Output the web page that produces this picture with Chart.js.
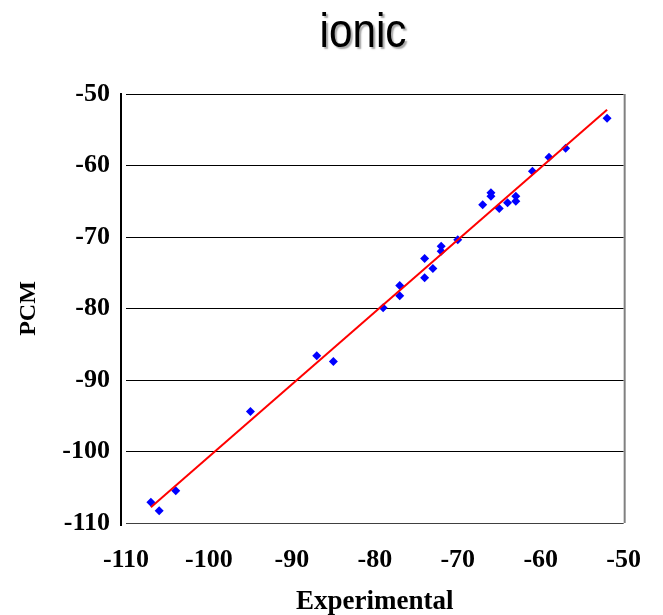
<!DOCTYPE html>
<html>
<head>
<meta charset="utf-8">
<script src="https://cdn.jsdelivr.net/npm/chart.js@4"></script>
<style>
html,body{margin:0;padding:0;background:#fff;}
canvas{display:block;}
</style>
</head>
<body>
<canvas id="c" width="663" height="615"></canvas>
<script>
// Data
const chartTitle = "ionic";
const xTitle = "Experimental";
const yTitle = "PCM";
const experimental = [-107, -106, -104, -95, -87, -85, -79, -77, -77, -74, -74, -73, -72, -72, -70, -67, -66, -66, -65, -64, -63, -63, -61, -59, -57, -52];
const pcm = [-107.1, -108.3, -105.5, -94.4, -86.6, -87.4, -79.9, -76.8, -78.2, -73.0, -75.7, -74.4, -71.3, -72.0, -70.4, -65.5, -63.8, -64.3, -66.0, -65.2, -64.3, -65.0, -60.8, -58.85, -57.6, -53.4];
const fitX = [-107, -52];
const fitY = [-107.8, -52.2];
const axisMin = -110, axisMax = -50, axisStep = 10;

const points = experimental.map((x, i) => ({x: x, y: pcm[i]}));
const fit = fitX.map((x, i) => ({x: x, y: fitY[i]}));

const decor = {
  id: 'decor',
  afterDraw(chart) {
    const ctx = chart.ctx, a = chart.chartArea;
    ctx.save();
    // left axis line (offset from plot like the reference)
    ctx.strokeStyle = '#000';
    ctx.lineWidth = 2;
    ctx.beginPath();
    ctx.moveTo(a.left - 5, a.top - 1);
    ctx.lineTo(a.left - 5, a.bottom + 3);
    ctx.stroke();
    // right border
    ctx.strokeStyle = '#808080';
    ctx.lineWidth = 2;
    ctx.beginPath();
    ctx.moveTo(a.right + 1, a.top);
    ctx.lineTo(a.right + 1, a.bottom);
    ctx.stroke();
    // title with shadow
    ctx.font = '48px "Liberation Sans", Arial, sans-serif';
    ctx.textAlign = 'center';
    ctx.textBaseline = 'alphabetic';
    ctx.translate(363, 46.5);
    ctx.scale(0.88, 1);
    ctx.shadowColor = 'rgba(0,0,0,0.35)';
    ctx.shadowOffsetX = 2;
    ctx.shadowOffsetY = 2;
    ctx.shadowBlur = 1.5;
    ctx.fillStyle = '#000';
    ctx.fillText(chartTitle, 0, 0);
    ctx.restore();
  }
};

const serifBold = (size) => ({family: '"Liberation Serif", "Times New Roman", serif', size: size, weight: 'bold'});

new Chart(document.getElementById('c'), {
  type: 'scatter',
  data: {
    datasets: [
      {
        type: 'line',
        data: fit,
        borderColor: '#ff0000',
        borderWidth: 2,
        pointRadius: 0,
        fill: false,
        tension: 0,
        order: 0
      },
      {
        data: points,
        pointStyle: 'rectRot',
        pointRadius: 4.5,
        pointBackgroundColor: '#0000ff',
        pointBorderColor: '#0000ff',
        pointBorderWidth: 0,
        order: 1
      }
    ]
  },
  options: {
    responsive: false,
    animation: false,
    layout: {padding: {top: 94, right: 39, left: 0, bottom: 0}},
    plugins: {legend: {display: false}, tooltip: {enabled: false}, title: {display: false}},
    scales: {
      x: {
        type: 'linear',
        min: axisMin, max: axisMax,
        ticks: {stepSize: axisStep, color: '#000', font: serifBold(26), padding: 22, maxRotation: 0},
        grid: {display: false, drawTicks: false},
        border: {display: false},
        title: {display: true, text: xTitle, color: '#000', font: serifBold(27), padding: {top: 0, bottom: -3}},
        afterFit(s) { s.height = 92; }
      },
      y: {
        type: 'linear',
        min: axisMin, max: axisMax,
        ticks: {stepSize: axisStep, color: '#000', font: serifBold(26), padding: 16},
        grid: {color: (c) => c.tick && c.tick.value === axisMin ? '#404040' : '#000', lineWidth: 1, drawTicks: false},
        border: {display: false},
        title: {display: true, text: yTitle, color: '#000', font: serifBold(24), padding: {top: 14, bottom: 0}},
        afterFit(s) { s.width = 126; }
      }
    }
  },
  plugins: [decor]
});
</script>
</body>
</html>
